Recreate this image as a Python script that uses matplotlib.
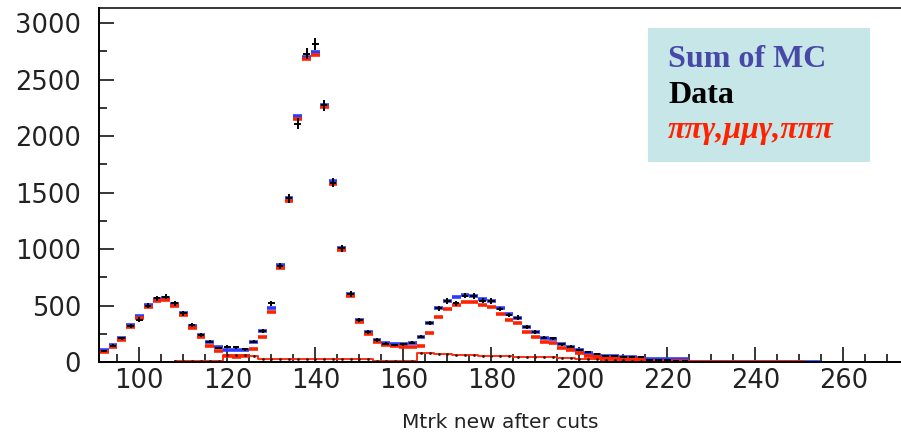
import numpy as np
import matplotlib.pyplot as plt
from matplotlib.patches import Rectangle
from matplotlib.ticker import MultipleLocator

# bin centres (bin width 2)
bins = np.arange(92, 262, 2)

# data (black crosses), 0 = empty bin
data = [100, 145, 210, 320, 375, 500, 563, 578, 520, 430,
        327, 240, 180, 124, 135, 130, 112, 180, 277, 519,
        850, 1448, 2112, 2732, 2820, 2274, 1588, 1006, 600, 372,
        265, 195, 160, 150, 156, 171, 224, 342, 475, 540,
        519, 587, 584, 543, 540, 469, 416, 392, 313, 268,
        215, 209, 156, 136, 106, 85, 70, 55, 50, 48,
        45, 40, 20, 18, 15, 12, 10, 0, 0, 0,
        0, 0, 0, 0, 0, 0, 0, 0, 0, 0,
        0, 0, 4, 4, 4]

# sum of MC (blue)
mc_sum = [105, 150, 210, 325, 410, 505, 560, 563, 515, 430,
          320, 240, 180, 130, 106, 106, 106, 174, 277, 475,
          855, 1455, 2177, 2700, 2743, 2280, 1600, 1010, 605, 375,
          268, 198, 172, 160, 156, 171, 224, 342, 475, 540,
          572, 593, 584, 560, 540, 475, 422, 392, 313, 268,
          215, 204, 156, 136, 106, 77, 62, 55, 50, 45,
          40, 35, 25, 24, 24, 24, 24, 4, 4, 4,
          4, 4, 4, 4, 4, 4, 4, 4, 4, 4,
          4, 4, 0, 0, 0]

# pi pi gamma, mu mu gamma, pi pi pi (red)
mc_pipig = [88, 133, 195, 308, 393, 488, 543, 546, 498, 413,
            303, 223, 142, 100, 50, 45, 50, 112, 218, 445,
            835, 1430, 2148, 2680, 2722, 2260, 1580, 990, 585, 355,
            248, 178, 150, 140, 130, 135, 140, 260, 400, 470,
            505, 530, 530, 505, 485, 425, 375, 345, 270, 225,
            175, 165, 122, 106, 80, 55, 45, 38, 33, 30,
            28, 25, 12, 12, 12, 12, 12, 4, 4, 4,
            4, 4, 4, 4, 4, 4, 4, 4, 4, 4,
            0, 0, 0, 0, 0]

# low background histogram (red line), from 108 on
bkg = [0, 0, 0, 0, 0, 0, 0, 0, 10, 10,
       10, 10, 10, 10, 60, 65, 60, 55, 25, 25,
       25, 25, 25, 25, 25, 25, 25, 25, 25, 25,
       25, 12, 12, 12, 12, 12, 80, 80, 75, 70,
       65, 60, 58, 56, 55, 52, 50, 48, 48, 45,
       42, 40, 35, 32, 30, 28, 25, 20, 18, 15,
       12, 10, 6, 5, 4, 3, 3, 2, 2, 2,
       2, 2, 2, 2, 2, 2, 2, 2, 2, 2,
       0, 0, 0, 0, 0]

data = np.array(data, dtype=float)
mc_sum = np.array(mc_sum, dtype=float)
mc_pipig = np.array(mc_pipig, dtype=float)
bkg = np.array(bkg, dtype=float)

blue = '#2a3cff'
red = '#ff2200'

fig = plt.figure(figsize=(9.01, 4.40), dpi=100)
ax = fig.add_axes([0.1099, 0.1773, 0.8901, 0.8045])

s = mc_sum > 0
ax.errorbar(bins[s], mc_sum[s], xerr=1, fmt='none', ecolor=blue, elinewidth=2.6)
r = mc_pipig > 0
ax.errorbar(bins[r], mc_pipig[r], xerr=1, fmt='none', ecolor=red, elinewidth=2.6)
b = (bins >= 108) & (bins <= 250)
ax.step(bins[b], bkg[b], where='mid', color=red, lw=1.3)
ax.plot(bins[b], bkg[b], ls='none', marker='.', ms=2, color='#401010')
d = data > 0
ax.errorbar(bins[d], data[d], xerr=0.75, yerr=np.sqrt(data[d]), fmt='none',
            ecolor='black', elinewidth=1.4)

ax.set_xlim(90.84, 273.1)
ax.set_ylim(0, 3135)
ax.xaxis.set_major_locator(MultipleLocator(20))
ax.xaxis.set_minor_locator(MultipleLocator(5))
ax.yaxis.set_major_locator(MultipleLocator(500))
ax.yaxis.set_minor_locator(MultipleLocator(250))
ax.tick_params(which='both', direction='in', width=1.1, colors='black',
               labelsize=18.5, labelcolor='#222222')
ax.tick_params(which='major', length=10.8)
ax.tick_params(which='minor', length=5.8)
ax.tick_params(axis='y', pad=13)
ax.tick_params(axis='x', pad=4)
ax.spines['right'].set_visible(False)
for sp in ['left', 'bottom']:
    ax.spines[sp].set_linewidth(1.4)
ax.spines['top'].set_linewidth(1.1)

ax.set_xlabel('Mtrk new after cuts', fontsize=14.5, labelpad=14, color='#222222')

# legend box
ax.add_patch(Rectangle((0.6845, 0.565), 0.2768, 0.3785, transform=ax.transAxes,
                       facecolor='#c6e6e8', edgecolor='none', zorder=5))
fig.text(0.7414, 0.8484, 'Sum of MC', family='Liberation Serif', weight='bold',
         fontsize=23, color='#4848a8', va='baseline', zorder=6)
fig.text(0.7414, 0.766, 'Data', family='Liberation Serif', weight='bold',
         fontsize=23, color='black', va='baseline', zorder=6)
fig.text(0.7414, 0.6864, 'ππγ,μμγ,πππ', family='Liberation Serif', weight='bold',
         style='italic', fontsize=23, color=red, va='baseline', zorder=6)

fig.savefig('out.png', dpi=100)
